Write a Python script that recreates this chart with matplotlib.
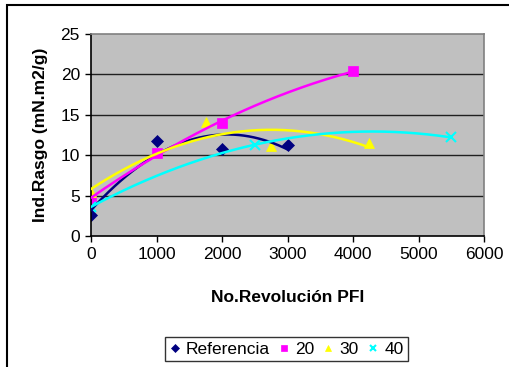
import numpy as np
import matplotlib.pyplot as plt
from matplotlib.patches import Rectangle

plt.rcParams['font.family'] = ['Liberation Sans', 'DejaVu Sans']

# measured points per series (revolutions PFI, tear index)
ref_x = [0, 1000, 2000, 3000]
ref_y = [2.6, 11.8, 10.8, 11.3]
s20_x = [0, 1000, 2000, 4000]
s20_y = [4.6, 10.3, 14.0, 20.4]
s30_x = [0, 1750, 2750, 4250]
s30_y = [5.4, 14.1, 11.1, 11.5]
s40_x = [0, 2500, 5500]
s40_y = [3.6, 11.3, 12.2]

labels = ["Referencia", "20", "30", "40"]
colors = ["#000080", "#FF00FF", "#FFFF00", "#00FFFF"]
markers = ["D", "s", "^", "x"]

fig = plt.figure(figsize=(5.1, 3.67), dpi=100)
ax = fig.add_axes([91/510, 1-236/367, 393/510, 202/367])
ax.set_facecolor("#C0C0C0")

series = [(ref_x, ref_y), (s20_x, s20_y), (s30_x, s30_y), (s40_x, s40_y)]

handles = []
for (x, y), c, m, lab in zip(series, colors, markers, labels):
    ms = 6.5 if m == "D" else 6.5
    h, = ax.plot(x, y, linestyle="none", marker=m, color=c, ms=ms,
                 mew=1.5 if m == "x" else 0.5, label=lab, zorder=2)
    handles.append(h)

# quadratic trendlines drawn over the markers
for (x, y), c in zip(series, colors):
    coef = np.polyfit(x, y, 2)
    xs = np.linspace(min(x), max(x), 200)
    ax.plot(xs, np.polyval(coef, xs), color=c, lw=1.8, zorder=3)

ax.set_xlim(0, 6000)
ax.set_ylim(0, 25)
ax.set_xticks(range(0, 6001, 1000))
ax.set_yticks(range(0, 26, 5))
ax.tick_params(direction="out", length=4, width=1, labelsize=12.5, pad=4)
for yv in range(5, 25, 5):
    ax.axhline(yv, color="#202020", lw=1, zorder=1)
ax.spines["left"].set_color("black")
ax.spines["bottom"].set_color("black")
ax.spines["top"].set_color("#808080")
ax.spines["right"].set_color("#808080")
for s in ax.spines.values():
    s.set_linewidth(1.2)

ax.set_xlabel("No.Revolución PFI", fontsize=12.5, fontweight="bold", labelpad=20)
ax.set_ylabel("Ind.Rasgo (mN.m2/g)", fontsize=12.5, fontweight="bold", labelpad=9)

leg = fig.legend(handles=handles, loc="center", bbox_to_anchor=(286.5/510, 1-349/367),
                 ncol=4, fontsize=12.5, frameon=True, fancybox=False,
                 handlelength=0.6, handletextpad=0.35, columnspacing=0.5,
                 borderpad=0.25, borderaxespad=0, markerscale=0.7)
leg.get_frame().set_edgecolor("black")
leg.get_frame().set_linewidth(1)

# chart-area border
fig.add_artist(Rectangle((7/510, -0.1), 1.0, 1.1-5/367, transform=fig.transFigure,
                         fill=False, edgecolor="black", lw=1.5, clip_on=False))

fig.savefig("out.png", dpi=100)
